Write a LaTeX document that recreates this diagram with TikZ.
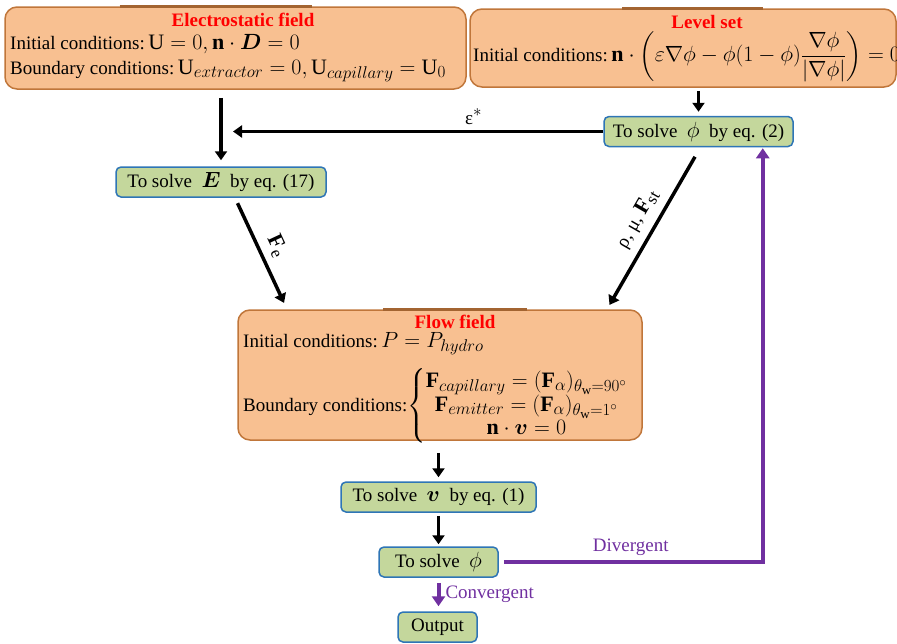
\RequirePackage{fix-cm}
\documentclass[tikz,border=0pt]{standalone}
\usepackage{amsmath,bm}
\usepackage{fontspec}
\setmainfont{Liberation Serif}
\usetikzlibrary{arrows.meta}
\DeclareMathSizes{19}{22}{17}{13}

\definecolor{boxorange}{HTML}{F8C091}
\definecolor{boxbrown}{HTML}{C0763A}
\definecolor{boxgreen}{HTML}{C4D79C}
\definecolor{boxblue}{HTML}{2E75B6}
\definecolor{loopviolet}{HTML}{7030A0}

\tikzset{
  every node/.style={font=\fontsize{19}{23}\selectfont, inner sep=0pt},
  orangebox/.style={draw=boxbrown, fill=boxorange, line width=1.5pt, rounded corners=12pt},
  greenbox/.style={draw=boxblue, fill=boxgreen, line width=1.5pt, rounded corners=5pt},
  topline/.style={draw=boxbrown!85!black, line width=2.5pt},
  boxtitle/.style={text=red, font=\fontsize{19}{23}\selectfont\bfseries},
  arr/.style={line width=3.5pt, -{Triangle[length=9pt,width=12pt]}},
  parr/.style={draw=loopviolet, line width=4pt, -{Triangle[length=10pt,width=13pt]}},
}

\begin{document}
\begin{tikzpicture}[x=1pt, y=-1pt]
  \useasboundingbox (0,0) rectangle (897,643);

  % the three field boxes
  \node[orangebox, minimum width=461pt, minimum height=82pt] (elec) at (235.5,48) {};
  \node[orangebox, minimum width=426pt, minimum height=78pt] (level) at (683,48) {};
  \node[orangebox, minimum width=404pt, minimum height=130pt] (flow) at (440,375) {};
  \draw[topline] ([xshift=-116pt]elec.north) -- ([xshift=76pt]elec.north);
  \draw[topline] ([xshift=-61pt]level.north) -- ([xshift=80pt]level.north);
  \draw[topline] ([xshift=-57pt]flow.north) -- ([xshift=87pt]flow.north);

  \node[boxtitle] (elec-title) at (243,20) {Electrostatic field};
  \node[anchor=west] (elec-init) at (10,44) {Initial conditions:$\,\mathrm{U}=0, \mathbf{n}\cdot\bm{D}=0$};
  \node[anchor=west] (elec-bound) at (10,71) {Boundary conditions:$\,\mathrm{U}_{extractor}=0, \mathrm{U}_{capillary}=\mathrm{U}_0$};

  \node[boxtitle] (level-title) at (707,22) {Level set};
  \node[anchor=west] (level-init) at (473,57) {Initial conditions:$\,\mathbf{n}\cdot\left(\varepsilon\nabla\phi-\phi(1-\phi)\dfrac{\nabla\phi}{|\nabla\phi|}\right)=0$};

  \node[boxtitle] (flow-title) at (455,322) {Flow field};
  \node[anchor=west] (flow-init) at (243,344) {Initial conditions:$\,P=P_{hydro}$};
  \node[anchor=west] (flow-bound) at (243,406) {Boundary conditions:$\left\{\begin{array}{@{}c@{}}
      \mathbf{F}_{capillary}=(\mathbf{F}_{\alpha})_{\theta_{\mathrm{w}}=90^{\circ}}\\
      \mathbf{F}_{emitter}=(\mathbf{F}_{\alpha})_{\theta_{\mathrm{w}}=1^{\circ}}\\
      \mathbf{n}\cdot\bm{v}=0\end{array}\right.$};

  % solver steps
  \foreach \name/\x/\y/\w/\txt in {
      phitwo/698.5/131.5/189/{To solve ~$\phi$~ by eq. (2)},
      efield/221/182/210/{To solve ~$\bm{E}$~ by eq. (17)},
      vel/438.5/497/195/{To solve ~$\bm{v}$~ by eq. (1)},
      phi/438.5/562/119/{To solve ~$\phi$},
      out/437.5/627/79/{Output}} {
    \node[greenbox, minimum width=\w*1pt, minimum height=30pt] (\name) at (\x,\y) {\txt};
  }

  \draw[arr, shorten <=8pt, shorten >=6pt] (elec.south -| efield.north) -- (efield.north);
  \draw[arr, shorten <=3pt, shorten >=4pt] (level.south -| phitwo.north) -- (phitwo.north);
  \draw[arr] (phitwo.west) -- ([xshift=12pt]phitwo.west -| efield.north)
    node[pos=0.35, above=5pt] (eps) {ε$^{*}$};
  \draw[arr, shorten <=6pt, shorten >=7pt] ([xshift=14pt]efield.south) -- ([xshift=-153pt]flow.north)
    node[midway, sloped, above=7pt] (fe) {$\mathbf{F}_{\mathrm{e}}$};
  \draw[arr, shorten <=11pt, shorten >=5pt] ([xshift=2pt]phitwo.south) -- ([xshift=167pt]flow.north)
    node[midway, sloped, above=8pt] (props) {ρ, μ, $\mathbf{F}_{\mathrm{st}}$};
  \draw[arr, shorten <=12pt, shorten >=4pt] (flow.south -| vel.north) -- (vel.north);
  \draw[arr, shorten <=3pt, shorten >=2pt] (vel.south) -- (phi.north);

  % convergence check
  \draw[parr, shorten <=5pt, shorten >=5pt] (phi.south) -- (phi.south |- out.north)
    node[midway, right=5pt, text=loopviolet] (conv) {Convergent};
  \draw[parr, shorten <=5pt, shorten >=1pt] (phi.east) -| ([xshift=-31pt]phitwo.south east)
    node[pos=0.25, above=4pt, text=loopviolet] (div) {Divergent};
\end{tikzpicture}
\end{document}
